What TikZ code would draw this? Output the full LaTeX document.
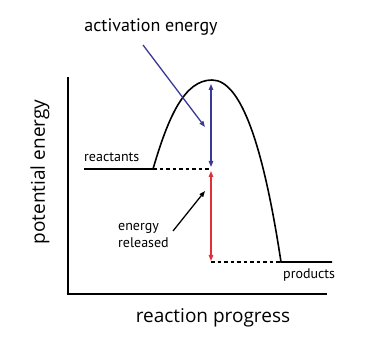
\documentclass[tikz,border=0pt]{standalone}
\usepackage{fontspec}
\setmainfont{PT Sans}
\newfontfamily\axisfont{Open Sans}
\usetikzlibrary{arrows.meta}
\definecolor{aeblue}{HTML}{3A3A96}
\definecolor{relred}{HTML}{E0303A}
\begin{document}
\begin{tikzpicture}[x=1pt,y=-1pt,
  lbl/.style={inner sep=0pt,font=\fontsize{14}{17}\selectfont},
  axlbl/.style={inner sep=0pt,font=\axisfont\fontsize{19}{22}\selectfont},
  curveline/.style={line width=1.6pt},
  axisline/.style={line width=1.5pt},
  dashline/.style={line width=1.2pt,dash pattern=on 3.5pt off 3pt},
  tip/.style={-{Triangle[length=6pt,width=4.5pt]}},
  dtip/.style={{Triangle[length=6pt,width=4.5pt]}-{Triangle[length=6pt,width=4.5pt]}}]
\useasboundingbox (0,0) rectangle (378,363);
% axes
\coordinate (ytop) at (68,77);
\coordinate (orig) at (68,294);
\coordinate (xend) at (327,294);
\draw[axisline] (ytop) -- (orig) -- (xend);
% energy profile
\coordinate (r0) at (84,169);
\coordinate (r1) at (153,169);
\coordinate (peak) at (212,80);
\coordinate (p0) at (281,262);
\coordinate (p1) at (332,262);
\draw[curveline] (r0) -- (r1) .. controls (168,118) and (184,80) .. (peak)
  .. controls (242,80) and (264,150) .. (p0) -- (p1);
% dashed levels
\coordinate (dr) at (211,169);
\coordinate (dp) at (211,262);
\draw[dashline] (r1) -- (dr);
\draw[dashline] (dp) -- (p0);
% arrows
\coordinate (bt) at (211,84);
\coordinate (bb) at (211,167);
\coordinate (rt) at (211,171);
\coordinate (rb) at (211,261);
\draw[dtip,aeblue,line width=1.3pt] (bt) -- (bb);
\draw[dtip,relred,line width=1.3pt] (rt) -- (rb);
% labels
\node[lbl,font=\fontsize{18}{20}\selectfont] (act) at (151,27) {activation energy};
\node[lbl,anchor=west] (reac) at (84,157) {reactants};
\node[lbl,anchor=west,align=left] (rel) at (118,236) {energy\\released};
\node[lbl,anchor=west] (prod) at (283,275) {products};
\node[axlbl] (rp) at (213,318) {reaction progress};
\node[axlbl,rotate=90] (pe) at (40,172) {potential energy};
% pointers
\coordinate (ap1) at (143,45);
\coordinate (ap2) at (205,127);
\draw[tip,aeblue,line width=1.3pt] (ap1) -- (ap2);
\coordinate (ep1) at (173,231);
\coordinate (ep2) at (205,191);
\draw[tip,line width=1.3pt] (ep1) -- (ep2);
\end{tikzpicture}
\end{document}
